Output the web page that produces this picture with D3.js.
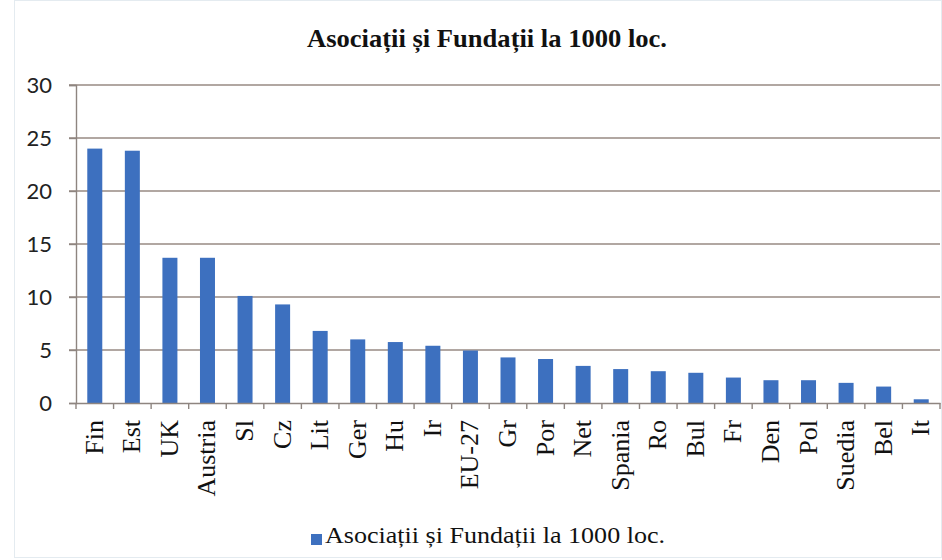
<!DOCTYPE html>
<html>
<head>
<meta charset="utf-8">
<script src="https://cdn.jsdelivr.net/npm/d3@7"></script>
<style>
  body { margin: 0; background: #fff; }
</style>
</head>
<body>
<script>
var width = 942,
    height = 560

// data
var countries = ["Fin", "Est", "UK", "Austria", "Sl", "Cz", "Lit", "Ger", "Hu", "Ir", "EU-27",
                 "Gr", "Por", "Net", "Spania", "Ro", "Bul", "Fr", "Den", "Pol", "Suedia", "Bel", "It"]
var values = [24.0, 23.8, 13.7, 13.7, 10.1, 9.3, 6.8, 6.0, 5.75, 5.4, 4.95,
              4.3, 4.15, 3.5, 3.2, 3.0, 2.85, 2.4, 2.15, 2.15, 1.9, 1.55, 0.35]
var yTicks = [0, 5, 10, 15, 20, 25, 30]
var title = "Asociații și Fundații la 1000 loc."

var margin = {left: 76, right: 2, top: 85, bottom: 157}
var serif = "'Liberation Serif', 'Times New Roman', serif"

var svg = d3.select("body").append("svg")
    .attr("width", width)
    .attr("height", height)

// faint frame
svg.append("rect")
    .attr("x", 14.5).attr("y", 0.5)
    .attr("width", width - 15).attr("height", 557)
    .attr("fill", "none")
    .attr("stroke", "#e4ebf0")

var x = d3.scaleBand()
    .domain(countries)
    .range([margin.left, width - margin.right])

var y = d3.scaleLinear()
    .domain([0, 30])
    .range([height - margin.bottom, margin.top])

// gridlines
svg.append("g")
    .selectAll("line")
    .data(yTicks.filter(function(d) { return d > 0 }))
    .enter().append("line")
    .attr("x1", margin.left - 7)
    .attr("x2", width - margin.right)
    .attr("y1", function(d) { return y(d) })
    .attr("y2", function(d) { return y(d) })
    .attr("stroke", "#978a83")
    .attr("stroke-width", 1.4)

// bars
var bw = 15
svg.append("g")
    .selectAll("rect")
    .data(values)
    .enter().append("rect")
    .attr("x", function(d, i) { return x(countries[i]) + x.bandwidth() / 2 - bw / 2 })
    .attr("y", function(d) { return y(d) })
    .attr("width", bw)
    .attr("height", function(d) { return y(0) - y(d) })
    .attr("fill", "#3d70bf")

// y axis
var yAxis = svg.append("g")
    .attr("transform", "translate(" + margin.left + ",0)")
    .call(d3.axisLeft(y).tickValues(yTicks).tickSize(7).tickPadding(17))
yAxis.select(".domain").attr("stroke", "#8e8580").attr("stroke-width", 1.4)
yAxis.selectAll(".tick line").attr("stroke", "#8e8580").attr("stroke-width", 1.4)
yAxis.selectAll("text")
    .attr("fill", "#222")
    .style("font-family", "Lato, 'Open Sans', sans-serif")
    .style("font-size", "22px")

// x axis
var xAxis = svg.append("g")
    .attr("transform", "translate(0," + y(0) + ")")
    .call(d3.axisBottom(x).tickSizeOuter(0).tickSize(0).tickFormat(""))
xAxis.select(".domain").attr("stroke", "#8e8580").attr("stroke-width", 1.4)

// tick marks between categories
svg.append("g")
    .selectAll("line")
    .data(countries.concat(["end"]))
    .enter().append("line")
    .attr("x1", function(d, i) { return margin.left + i * x.step() })
    .attr("x2", function(d, i) { return margin.left + i * x.step() })
    .attr("y1", y(0))
    .attr("y2", y(0) + 6)
    .attr("stroke", "#8e8580")
    .attr("stroke-width", 1.4)

// rotated labels
svg.append("g")
    .selectAll("text")
    .data(countries)
    .enter().append("text")
    .attr("transform", function(d) {
        return "translate(" + (x(d) + x.bandwidth() / 2 + 8) + "," + (y(0) + 17) + ") rotate(-90)"
    })
    .attr("text-anchor", "end")
    .style("font-family", serif)
    .style("font-size", "26px")
    .attr("fill", "#111")
    .text(function(d) { return d })

// title
svg.append("text")
    .attr("x", 487)
    .attr("y", 47)
    .attr("text-anchor", "middle")
    .attr("textLength", 360)
    .attr("lengthAdjust", "spacingAndGlyphs")
    .style("font-family", serif)
    .style("font-size", "25px")
    .style("font-weight", "bold")
    .attr("fill", "#111")
    .text(title)

// legend
var legend = svg.append("g").attr("transform", "translate(311,543)")
legend.append("rect")
    .attr("x", 0).attr("y", -9)
    .attr("width", 11).attr("height", 11)
    .attr("fill", "#3d70bf")
legend.append("text")
    .attr("x", 14)
    .attr("y", 0)
    .attr("textLength", 340)
    .attr("lengthAdjust", "spacingAndGlyphs")
    .style("font-family", serif)
    .style("font-size", "24px")
    .attr("fill", "#111")
    .text(title)
</script>
</body>
</html>
